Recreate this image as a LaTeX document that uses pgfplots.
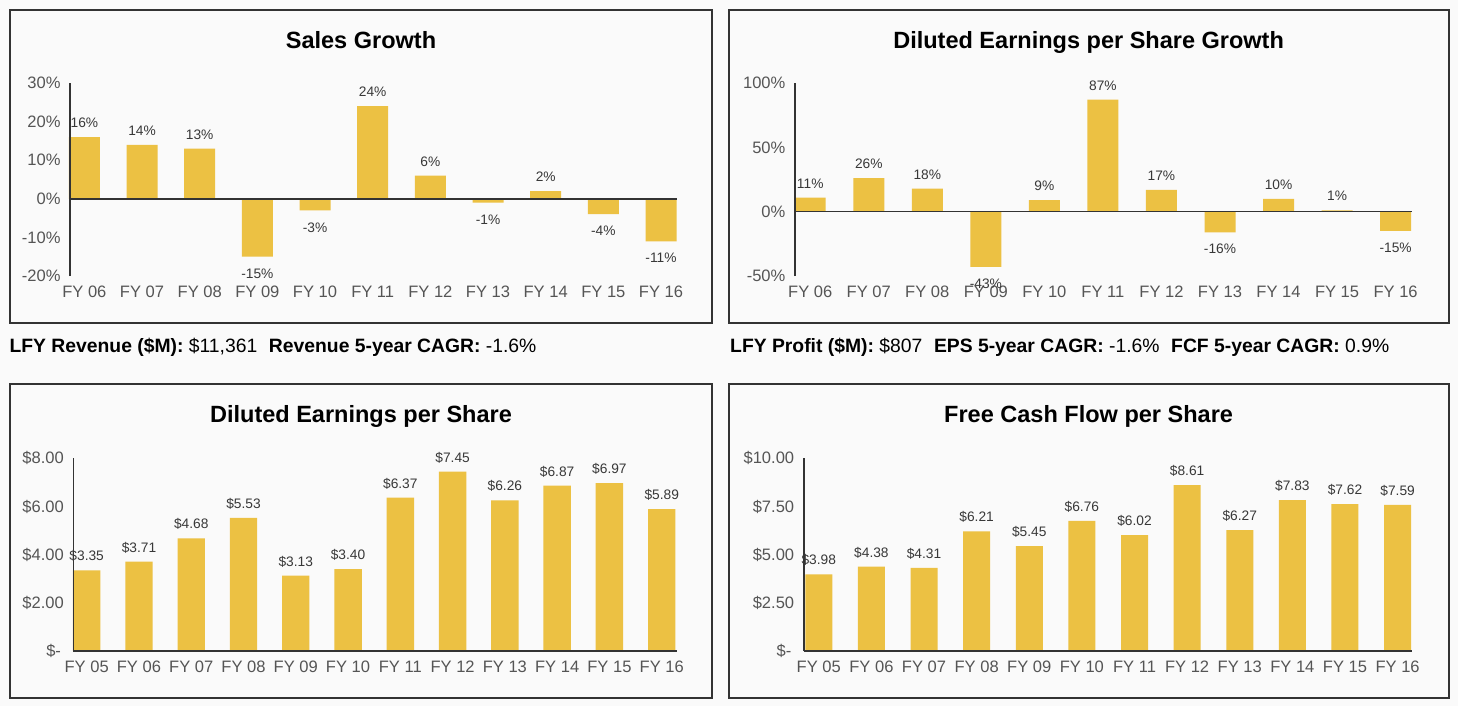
\documentclass[border=0pt]{standalone}
\usepackage{pgfplots}
\pgfplotsset{compat=1.18}
\usepackage{fontspec}
\setmainfont{Liberation Sans}
\definecolor{barc}{HTML}{ECC143}
\definecolor{bg}{HTML}{FAFAFA}
\definecolor{frame}{HTML}{333333}
\definecolor{tickc}{HTML}{555555}
\definecolor{labc}{HTML}{383838}
\newcommand{\ttl}{\fontsize{11.8}{14}\selectfont\bfseries}
\newcommand{\info}{\fontsize{9.7}{12}\selectfont}
\pgfplotsset{
  panel/.style={
    scale only axis, anchor=south west, clip=false,
    axis line style={draw=none},
    tick style={draw=none},
    /pgf/number format/assume math mode=true,
    tick label style={font=\fontsize{8.3}{10}\selectfont, text=tickc},
    xticklabel style={yshift=-1.5bp},
    yticklabel style={xshift=-1.3bp},
    nodes near coords align=vertical,
    every node near coord/.append style={font=\fontsize{6.9}{8}\selectfont, text=labc},
  },
  pct/.style={nodes near coords={%
    \pgfmathfloatgetflagstomacro{\pgfplotspointmeta}{\flg}%
    \ifnum\flg=2 \raisebox{-2.5bp}[\height]{\pgfmathprintnumber{\pgfplotspointmeta}\%}%
    \else\raisebox{1.2bp}{\pgfmathprintnumber{\pgfplotspointmeta}\%}\fi}},
  dol/.style={nodes near coords={\raisebox{1.2bp}{\$\pgfmathprintnumber[fixed,fixed zerofill,precision=2]{\pgfplotspointmeta}}}},
}
\begin{document}
\begin{tikzpicture}
\fill[bg] (0,0) rectangle (729bp,-353bp);
\foreach \x/\y/\w/\h in {5/-5/351/-156.35, 364.7/-5/359.55/-156.35, 5/-192.15/351/-156.7, 364.7/-192.15/359.55/-156.7}
  \draw[frame, line width=1bp] (\x bp,\y bp) rectangle ++(\w bp,\h bp);

\node[anchor=base, font=\ttl] at (180.5bp,-24.15bp) {Sales Growth};
\node[anchor=base, font=\ttl] at (544.3bp,-24.15bp) {Diluted Earnings per Share Growth};
\node[anchor=base, font=\ttl] at (180.5bp,-211.3bp) {Diluted Earnings per Share};
\node[anchor=base, font=\ttl] at (544.3bp,-211.3bp) {Free Cash Flow per Share};

\node[anchor=base west, font=\info, inner sep=0pt] at (4.6bp,-176.3bp)
  {\textbf{LFY Revenue (\$M):} \$11,361\hspace{0.6em}\textbf{Revenue 5-year CAGR:} -1.6\%};
\node[anchor=base west, font=\info, inner sep=0pt] at (364.9bp,-176.3bp)
  {\textbf{LFY Profit (\$M):} \$807\hspace{0.6em}\textbf{EPS 5-year CAGR:} -1.6\%\hspace{0.6em}\textbf{FCF 5-year CAGR:} 0.9\%};

% Sales Growth
\begin{axis}[panel, pct, at={(35.1bp,-138bp)}, width=303.2bp, height=96.5bp,
  xmin=-0.246, xmax=10.27, ymin=-20, ymax=30,
  ytick={-20,-10,0,10,20,30}, yticklabels={-20\%,-10\%,0\%,10\%,20\%,30\%},
  xtick={0,...,10}, xticklabels={FY 06,FY 07,FY 08,FY 09,FY 10,FY 11,FY 12,FY 13,FY 14,FY 15,FY 16}]
\addplot[ybar, bar width=15.5bp, bar shift=0pt, fill=barc, draw=none] coordinates
  {(0,16) (1,14) (2,13) (3,-15) (4,-3) (5,24) (6,6) (7,-1) (8,2) (9,-4) (10,-11)};
\draw[frame, line width=0.8bp] (axis cs:-0.246,-20) -- (axis cs:-0.246,30);
\draw[frame, line width=0.8bp] (axis cs:-0.246,0) -- (axis cs:10.27,0);
\end{axis}

% EPS Growth
\begin{axis}[panel, pct, at={(397.5bp,-138bp)}, width=308.5bp, height=96.5bp,
  xmin=-0.26, xmax=10.28, ymin=-50, ymax=100,
  ytick={-50,0,50,100}, yticklabels={-50\%,0\%,50\%,100\%},
  xtick={0,...,10}, xticklabels={FY 06,FY 07,FY 08,FY 09,FY 10,FY 11,FY 12,FY 13,FY 14,FY 15,FY 16}]
\addplot[ybar, bar width=15.5bp, bar shift=0pt, fill=barc, draw=none] coordinates
  {(0,11) (1,26) (2,18) (3,-43) (4,9) (5,87) (6,17) (7,-16) (8,10) (9,1) (10,-15)};
\draw[frame, line width=0.8bp] (axis cs:-0.26,-50) -- (axis cs:-0.26,100);
\draw[frame, line width=0.8bp] (axis cs:-0.26,0) -- (axis cs:10.28,0);
\end{axis}

% Diluted EPS
\begin{axis}[panel, dol, at={(36.7bp,-325.5bp)}, width=301.6bp, height=96.3bp,
  xmin=-0.254, xmax=11.285, ymin=0, ymax=8,
  ytick={0,2,4,6,8}, yticklabels={\$-\,,\$2.00,\$4.00,\$6.00,\$8.00},
  xtick={0,...,11}, xticklabels={FY 05,FY 06,FY 07,FY 08,FY 09,FY 10,FY 11,FY 12,FY 13,FY 14,FY 15,FY 16}]
\addplot[ybar, bar width=13.7bp, bar shift=0pt, fill=barc, draw=none] coordinates
  {(0,3.35) (1,3.71) (2,4.68) (3,5.53) (4,3.13) (5,3.40) (6,6.37) (7,7.45) (8,6.26) (9,6.87) (10,6.97) (11,5.89)};
\draw[frame, line width=0.8bp] (axis cs:-0.254,0) -- (axis cs:-0.254,8);
\draw[frame, line width=0.8bp] (axis cs:-0.254,0) -- (axis cs:11.285,0);
\end{axis}

% FCF per share
\begin{axis}[panel, dol, at={(401.9bp,-325.5bp)}, width=304bp, height=96.3bp,
  xmin=-0.285, xmax=11.27, ymin=0, ymax=10,
  ytick={0,2.5,5,7.5,10}, yticklabels={\$-\,,\$2.50,\$5.00,\$7.50,\$10.00},
  xtick={0,...,11}, xticklabels={FY 05,FY 06,FY 07,FY 08,FY 09,FY 10,FY 11,FY 12,FY 13,FY 14,FY 15,FY 16}]
\addplot[ybar, bar width=13.5bp, bar shift=0pt, fill=barc, draw=none] coordinates
  {(0,3.98) (1,4.38) (2,4.31) (3,6.21) (4,5.45) (5,6.76) (6,6.02) (7,8.61) (8,6.27) (9,7.83) (10,7.62) (11,7.59)};
\draw[frame, line width=0.8bp] (axis cs:-0.285,0) -- (axis cs:-0.285,10);
\draw[frame, line width=0.8bp] (axis cs:-0.285,0) -- (axis cs:11.27,0);
\end{axis}
\end{tikzpicture}
\end{document}
